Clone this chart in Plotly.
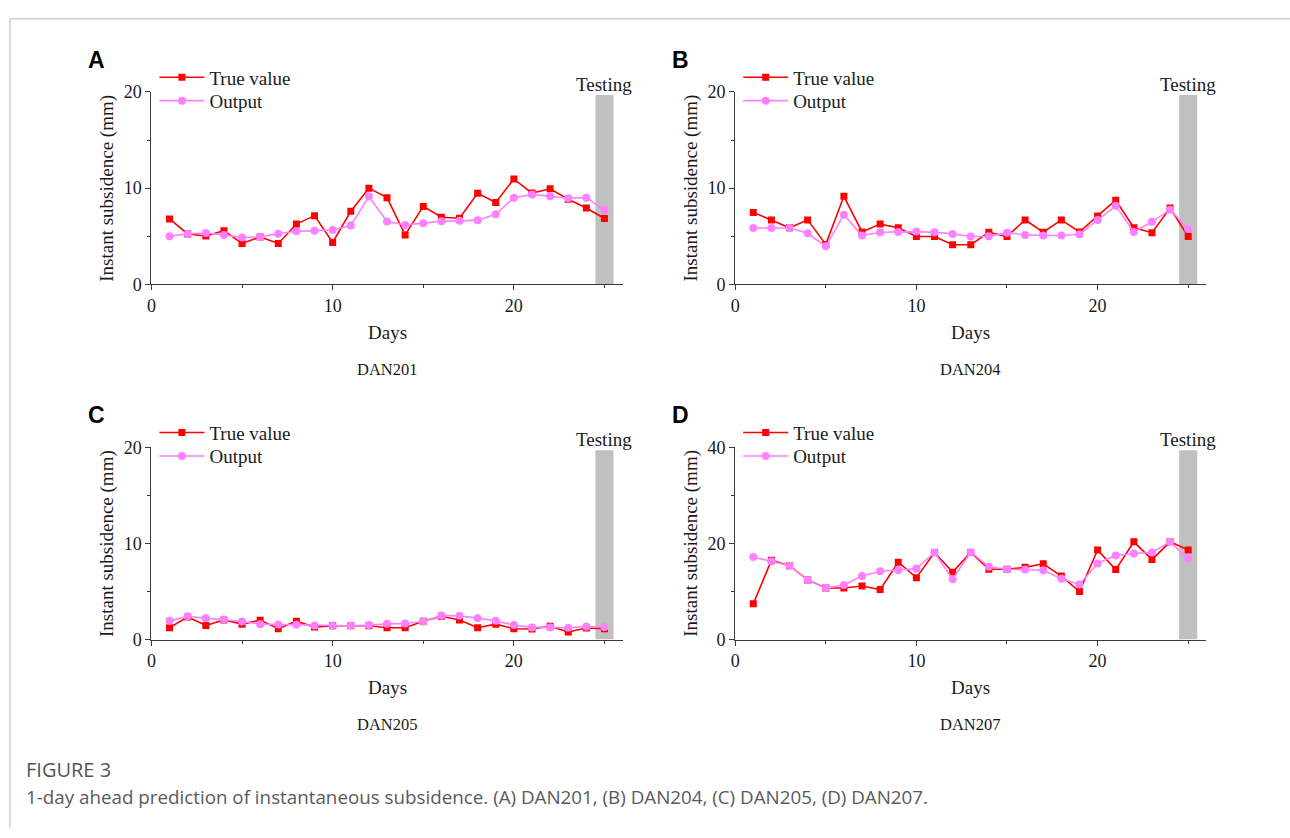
import plotly.graph_objects as go

days = list(range(1, 26))

a_true = [6.8, 5.24, 5.03, 5.58, 4.25, 4.93, 4.25, 6.26, 7.14, 4.35, 7.59, 10.0, 9.01, 5.14, 8.1,
          6.97, 6.87, 9.46, 8.5, 10.95, 9.49, 9.93, 8.84, 7.93, 6.84]
a_out = [5.0, 5.24, 5.34, 5.14, 4.86, 4.93, 5.27, 5.51, 5.58, 5.65, 6.12, 9.12, 6.53, 6.16, 6.36,
         6.56, 6.6, 6.67, 7.28, 9.01, 9.35, 9.15, 8.95, 9.01, 7.72]

b_true = [7.48, 6.7, 5.88, 6.7, 4.15, 9.15, 5.44, 6.26, 5.88, 4.97, 4.97, 4.12, 4.12, 5.41, 4.97,
          6.7, 5.41, 6.7, 5.44, 7.11, 8.74, 5.88, 5.37, 7.93, 4.97]
b_out = [5.85, 5.85, 5.85, 5.31, 3.95, 7.24, 5.07, 5.41, 5.44, 5.48, 5.41, 5.24, 4.97, 5.0, 5.37,
         5.14, 5.07, 5.07, 5.2, 6.7, 8.16, 5.44, 6.5, 7.76, 5.75]

c_true = [1.23, 2.36, 1.47, 2.05, 1.61, 2.02, 1.13, 1.92, 1.3, 1.44, 1.44, 1.44, 1.23, 1.23, 1.92,
          2.43, 2.05, 1.23, 1.61, 1.13, 1.1, 1.4, 0.79, 1.2, 1.13]
c_out = [1.95, 2.43, 2.23, 2.09, 1.88, 1.61, 1.58, 1.54, 1.47, 1.44, 1.44, 1.51, 1.64, 1.68, 1.88,
         2.5, 2.47, 2.23, 1.95, 1.51, 1.27, 1.27, 1.23, 1.37, 1.3]

d_true = [7.45, 16.5, 15.37, 12.42, 10.74, 10.74, 11.14, 10.4, 16.1, 12.89, 18.12, 14.03, 18.12,
          14.63, 14.63, 15.03, 15.77, 13.22, 10.0, 18.66, 14.56, 20.34, 16.64, 20.34, 18.66]
d_out = [17.18, 16.3, 15.37, 12.42, 10.74, 11.34, 13.22, 14.23, 14.43, 14.77, 18.12, 12.55, 18.19,
         15.17, 14.63, 14.56, 14.43, 12.68, 11.48, 15.84, 17.52, 17.92, 18.12, 20.34, 16.85]

panel_letters = ["A", "B", "C", "D"]
well_names = ["DAN201", "DAN204", "DAN205", "DAN207"]
y_max = [20, 20, 20, 40]
testing_day = 25

W, H = 1290, 838
SERIF = "Liberation Serif, Times New Roman, serif"
RED = "#ff0000"
PINK = "#ff80ff"
AXC = "#3a3a3a"
TXT = "#1a1a1a"

# pixel geometry of each panel: (x_left, x_right, y_top, y_bottom)
boxes = [(147, 620, 84, 281), (733, 1206, 84, 281),
         (147, 620, 448, 645), (733, 1206, 448, 645)]

def px(x):
    return x / W

def py(y):
    return 1 - y / H

fig = go.Figure()
series = [(a_true, a_out), (b_true, b_out), (c_true, c_out), (d_true, d_out)]

def legend_name(k):
    return "legend" if k == 1 else f"legend{k}"

for i, ((tv, ov), (xl, xr, yt, yb)) in enumerate(zip(series, boxes)):
    n = i + 1
    sfx = "" if n == 1 else str(n)
    lg_t = legend_name(2 * i + 1)
    lg_o = legend_name(2 * i + 2)
    fig.add_trace(go.Scatter(x=days, y=tv, mode="lines+markers", name="True value",
                             line=dict(color=RED, width=1.6),
                             marker=dict(symbol="square", size=7, color=RED),
                             xaxis=f"x{sfx}", yaxis=f"y{sfx}", legend=lg_t))
    fig.add_trace(go.Scatter(x=days, y=ov, mode="lines+markers", name="Output",
                             line=dict(color=PINK, width=1.6),
                             marker=dict(symbol="circle", size=8, color=PINK),
                             xaxis=f"x{sfx}", yaxis=f"y{sfx}", legend=lg_o))

    ym = y_max[i]
    leg_common = dict(xanchor="left", yanchor="middle", bgcolor="rgba(0,0,0,0)",
                      font=dict(family=SERIF, size=19, color=TXT), itemwidth=45)
    fig.update_layout(**{
        f"xaxis{sfx}": dict(domain=[px(xl), px(xr)], range=[0, 26], anchor=f"y{sfx}",
                            showgrid=False, zeroline=False, showline=True, linecolor=AXC,
                            linewidth=1.3, ticks="outside", ticklen=5, tickwidth=1.2,
                            tickcolor=AXC, tick0=0, dtick=10,
                            minor=dict(dtick=5, ticks="outside", ticklen=3, tickcolor=AXC),
                            tickfont=dict(family=SERIF, size=18, color=TXT)),
        f"yaxis{sfx}": dict(domain=[py(yb), py(yt)], range=[0, ym], anchor=f"x{sfx}",
                            showgrid=False, zeroline=False, showline=True, linecolor=AXC,
                            linewidth=1.3, ticks="outside", ticklen=5, tickwidth=1.2,
                            tickcolor=AXC, tick0=0, dtick=ym / 2,
                            minor=dict(dtick=ym / 4, ticks="outside", ticklen=3, tickcolor=AXC),
                            tickfont=dict(family=SERIF, size=18, color=TXT)),
        lg_t: dict(x=px(xl + 3), y=py(yt - 15), **leg_common),
        lg_o: dict(x=px(xl + 3), y=py(yt + 9), **leg_common),
    })

    # testing band
    fig.add_shape(type="rect", xref=f"x{sfx}", yref=f"y{sfx}",
                  x0=testing_day - 0.5, x1=testing_day + 0.5, y0=0, y1=ym * 0.985,
                  fillcolor="#c0c0c0", line=dict(width=0), layer="below")
    fig.add_annotation(x=testing_day, y=py(yt - 8), xref=f"x{sfx}", yref="paper",
                       text="Testing", showarrow=False, yanchor="middle",
                       font=dict(family=SERIF, size=19, color=TXT))
    # panel letter
    fig.add_annotation(x=px(xl - 55), y=py(yt - 33), xref="paper", yref="paper",
                       text=f"<b>{panel_letters[i]}</b>", showarrow=False,
                       xanchor="center", yanchor="middle",
                       font=dict(family="Liberation Sans, Arial, sans-serif", size=23, color="#000"))
    # y title
    fig.add_annotation(x=px(xl - 44), y=py((yt + yb) / 2), xref="paper", yref="paper",
                       text="Instant subsidence (mm)", textangle=-90, showarrow=False,
                       xanchor="center", yanchor="middle",
                       font=dict(family=SERIF, size=19, color=TXT))
    # x title
    fig.add_annotation(x=px((xl + xr) / 2), y=py(yb + 49), xref="paper", yref="paper",
                       text="Days", showarrow=False, xanchor="center", yanchor="middle",
                       font=dict(family=SERIF, size=19, color=TXT))
    # well name
    fig.add_annotation(x=px((xl + xr) / 2), y=py(yb + 87), xref="paper", yref="paper",
                       text=well_names[i], showarrow=False, xanchor="center", yanchor="middle",
                       font=dict(family=SERIF, size=16.5, color=TXT))

# caption
fig.add_annotation(x=px(19), y=py(778), xref="paper", yref="paper", text="FIGURE 3",
                   showarrow=False, xanchor="left", yanchor="middle",
                   font=dict(family="Open Sans, sans-serif", size=20, color="#555"))
fig.add_annotation(x=px(19), y=py(806), xref="paper", yref="paper",
                   text="1-day ahead prediction of instantaneous subsidence. (A) DAN201, (B) DAN204, (C) DAN205, (D) DAN207.",
                   showarrow=False, xanchor="left", yanchor="middle",
                   font=dict(family="Open Sans, sans-serif", size=18.8, color="#5a5a5a"))

# frame lines (top and left)
fig.add_shape(type="line", xref="paper", yref="paper", x0=px(5), x1=1, y0=py(9), y1=py(9),
              line=dict(color="#cfcfcf", width=1.5))
fig.add_shape(type="line", xref="paper", yref="paper", x0=px(5), x1=px(5), y0=py(9), y1=0,
              line=dict(color="#cfcfcf", width=1.5))

fig.update_layout(width=W, height=H, margin=dict(l=0, r=0, t=0, b=0),
                  paper_bgcolor="white", plot_bgcolor="white", showlegend=True)

page_css = (
    "document.documentElement.style.margin='0';"
    "document.documentElement.style.padding='0';"
    "document.documentElement.style.overflow='hidden';"
    "document.body.style.margin='0';"
    "document.body.style.padding='0';"
    "document.body.style.overflow='hidden';"
    "var gd=document.getElementsByClassName('plotly-graph-div')[0];"
    "gd.style.position='fixed';gd.style.left='0px';gd.style.top='0px';"
)

fig.write_html("out.html", config={"displayModeBar": False}, post_script=page_css)
